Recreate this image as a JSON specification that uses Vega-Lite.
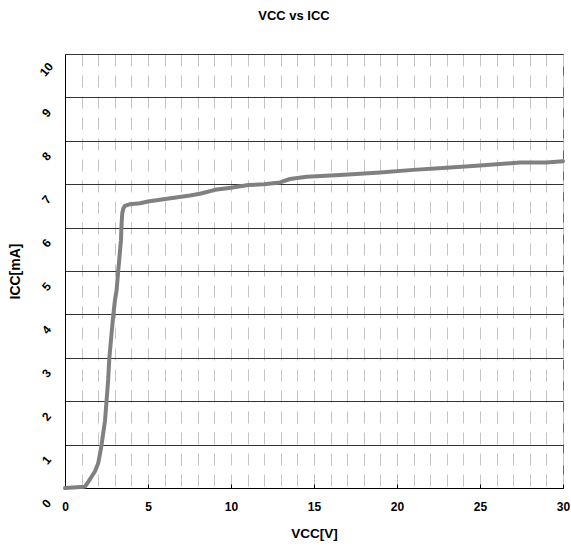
{
  "$schema": "https://vega.github.io/schema/vega-lite/v6.json",
  "autosize": "none",
  "width": 498,
  "height": 434,
  "padding": {"left": 65, "top": 54, "right": 8, "bottom": 59},
  "background": "white",
  "title": {
    "text": "VCC vs ICC",
    "font": "Liberation Sans",
    "fontSize": 13,
    "fontWeight": "bold",
    "color": "black",
    "anchor": "middle",
    "dx": -20,
    "frame": "group",
    "baseline": "alphabetic",
    "offset": 21
  },
  "config": {
    "view": {"stroke": "#666666", "strokeWidth": 1},
    "axis": {
      "labelFont": "Liberation Sans",
      "titleFont": "Liberation Sans",
      "labelFontWeight": "bold",
      "titleFontWeight": "bold",
      "labelColor": "black",
      "titleColor": "black",
      "labelFontSize": 12,
      "domainColor": "black",
      "domainWidth": 1
    }
  },
  "data": {
    "values": [
      {"vcc": 0, "icc": 0},
      {"vcc": 1.2, "icc": 0.03},
      {"vcc": 1.4, "icc": 0.14},
      {"vcc": 1.6, "icc": 0.26},
      {"vcc": 1.8, "icc": 0.38},
      {"vcc": 2.0, "icc": 0.57},
      {"vcc": 2.15, "icc": 0.88},
      {"vcc": 2.2, "icc": 0.99},
      {"vcc": 2.3, "icc": 1.26},
      {"vcc": 2.41, "icc": 1.55},
      {"vcc": 2.5, "icc": 1.99},
      {"vcc": 2.6, "icc": 2.49},
      {"vcc": 2.67, "icc": 2.99},
      {"vcc": 2.79, "icc": 3.5},
      {"vcc": 2.91, "icc": 3.99},
      {"vcc": 3.01, "icc": 4.33},
      {"vcc": 3.11, "icc": 4.56},
      {"vcc": 3.21, "icc": 5.02},
      {"vcc": 3.3, "icc": 5.4},
      {"vcc": 3.37, "icc": 5.71},
      {"vcc": 3.41, "icc": 6.1},
      {"vcc": 3.45, "icc": 6.33},
      {"vcc": 3.52, "icc": 6.45},
      {"vcc": 3.61, "icc": 6.5},
      {"vcc": 3.92, "icc": 6.54},
      {"vcc": 4.52, "icc": 6.56},
      {"vcc": 5.0, "icc": 6.6},
      {"vcc": 5.72, "icc": 6.64},
      {"vcc": 7.53, "icc": 6.74},
      {"vcc": 8.13, "icc": 6.78},
      {"vcc": 9.04, "icc": 6.87},
      {"vcc": 10.0, "icc": 6.92},
      {"vcc": 11.04, "icc": 6.98},
      {"vcc": 12.0, "icc": 7.0},
      {"vcc": 12.95, "icc": 7.04},
      {"vcc": 13.55, "icc": 7.12},
      {"vcc": 14.56, "icc": 7.17},
      {"vcc": 16.57, "icc": 7.21},
      {"vcc": 18.98, "icc": 7.27},
      {"vcc": 20.98, "icc": 7.33},
      {"vcc": 22.99, "icc": 7.38},
      {"vcc": 25.0, "icc": 7.43},
      {"vcc": 27.4, "icc": 7.5},
      {"vcc": 29.0, "icc": 7.5},
      {"vcc": 30.0, "icc": 7.53}
    ]
  },
  "mark": {"type": "line", "color": "#808080", "strokeWidth": 4, "strokeCap": "round", "strokeJoin": "round"},
  "encoding": {
    "x": {
      "field": "vcc",
      "type": "quantitative",
      "scale": {"domain": [0, 30], "nice": false, "zero": false},
      "axis": {
        "title": "VCC[V]",
        "titleFontSize": 13.5,
        "titleX": 249,
        "titleY": 45,
        "titleBaseline": "middle",
        "values": [0,1,2,3,4,5,6,7,8,9,10,11,12,13,14,15,16,17,18,19,20,21,22,23,24,25,26,27,28,29,30],
        "labelExpr": "datum.value % 5 === 0 ? datum.label : ''",
        "labelPadding": 17,
        "labelFlush": false,
        "labelOverlap": false,
        "grid": true,
        "gridColor": "#c4c4c4",
        "gridDash": [12, 9],
        "gridWidth": 1,
        "tickSize": -4,
        "tickColor": "black",
        "tickOpacity": {"condition": {"test": "datum.value % 5 === 0", "value": 1}, "value": 0}
      }
    },
    "y": {
      "field": "icc",
      "type": "quantitative",
      "scale": {"domain": [0, 10], "nice": false},
      "axis": {
        "title": "ICC[mA]",
        "titleFontSize": 14,
        "titleX": -50,
        "titleY": 217,
        "titleAngle": -90,
        "titleBaseline": "middle",
        "titleAlign": "center",
        "values": [0,1,2,3,4,5,6,7,8,9,10],
        "grid": true,
        "gridColor": "#333333",
        "gridWidth": 1,
        "ticks": false,
        "tickSize": 0,
        "labelAngle": -50,
        "labelAlign": "center",
        "labelBaseline": "middle",
        "labelPadding": 19,
        "labelOffset": 15,
        "labelOverlap": false,
        "labelFlush": false
      }
    }
  }
}
